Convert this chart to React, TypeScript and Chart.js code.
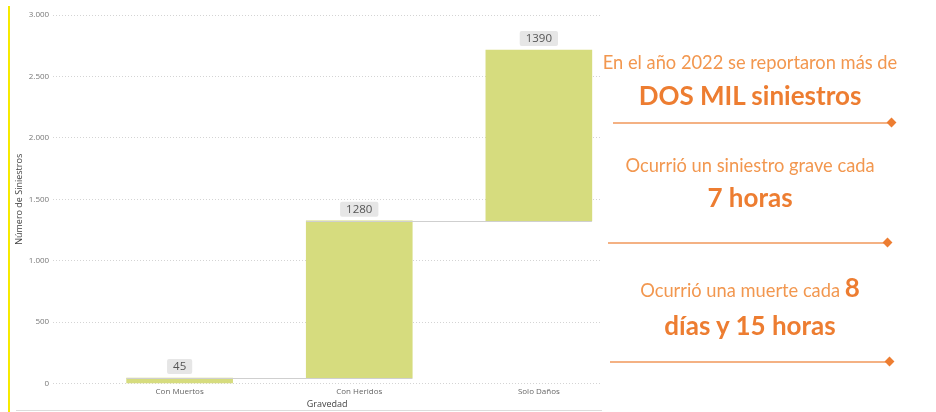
import React, { useEffect, useRef } from 'react';
import { Chart, registerables } from 'chart.js';
Chart.register(...registerables);

const categories = ['Con Muertos', 'Con Heridos', 'Solo Daños'];
const deltas = [45, 1280, 1390];
const yTicks = [0, 500, 1000, 1500, 2000, 2500, 3000];

const starts: number[] = [];
deltas.reduce((acc, d) => { starts.push(acc); return acc + d; }, 0);

const fmt = (v: number) => String(v).replace(/\B(?=(\d{3})+(?!\d))/g, '.');

const BAR = '#D6DC7E';
const ORANGE = '#ED7D31';
const ORANGE_L = '#F2974F';
const LINE_L = '#F4B183';

const connectorPlugin = {
  id: 'connectors',
  afterDatasetsDraw(chart: any) {
    const meta = chart.getDatasetMeta(0);
    const ctx = chart.ctx;
    ctx.save();
    ctx.strokeStyle = '#cfcfcf';
    ctx.lineWidth = 1;
    for (let i = 0; i < meta.data.length - 1; i++) {
      const a = meta.data[i].getProps(['x', 'y', 'width'], true);
      const b = meta.data[i + 1].getProps(['x', 'y', 'width'], true);
      const y = Math.round(a.y) + 0.5;
      ctx.beginPath();
      ctx.moveTo(a.x - a.width / 2, y);
      ctx.lineTo(b.x + b.width / 2, y);
      ctx.stroke();
    }
    ctx.restore();
  },
};

const labelPlugin = {
  id: 'boxLabels',
  afterDatasetsDraw(chart: any) {
    const meta = chart.getDatasetMeta(0);
    const ctx = chart.ctx;
    ctx.save();
    ctx.font = "11.5px 'Open Sans', sans-serif";
    ctx.textAlign = 'center';
    ctx.textBaseline = 'middle';
    meta.data.forEach((el: any, i: number) => {
      const p = el.getProps(['x', 'y'], true);
      const txt = String(deltas[i]);
      const w = ctx.measureText(txt).width + 12;
      const h = 15;
      const bottom = p.y - 4;
      ctx.fillStyle = '#e6e6e6';
      ctx.beginPath();
      (ctx as any).roundRect(p.x - w / 2, bottom - h, w, h, 2);
      ctx.fill();
      ctx.fillStyle = '#555';
      ctx.fillText(txt, p.x, bottom - h / 2 + 0.5);
    });
    ctx.restore();
  },
};

function ChartView() {
  const ref = useRef<HTMLCanvasElement | null>(null);
  useEffect(() => {
    if (!ref.current) return;
    const chart = new Chart(ref.current, {
      type: 'bar',
      data: {
        datasets: [{
          data: categories.map((c, i) => ({ x: i, y: [starts[i], starts[i] + deltas[i]] })) as any,
          backgroundColor: BAR,
          barThickness: 106,
        }],
      },
      options: {
        animation: false,
        responsive: false,
        layout: { padding: { left: 14, right: 19, top: 15, bottom: 2 } },
        plugins: { legend: { display: false }, tooltip: { enabled: false } },
        scales: {
          x: {
            type: 'linear',
            offset: false,
            min: -0.704,
            max: 2.346,
            grid: { display: false, drawTicks: false },
            border: { display: false },
            afterBuildTicks: (s: any) => { s.ticks = categories.map((_, i) => ({ value: i })); },
            ticks: {
              callback: (v: any) => categories[v] ?? '',
              font: { size: 8, family: "'Open Sans', sans-serif" },
              color: '#666',
              padding: 3,
              maxRotation: 0,
              autoSkip: false,
            },
            title: {
              display: true,
              text: 'Gravedad',
              font: { size: 9, family: "'Open Sans', sans-serif" },
              color: '#444',
              padding: { top: 0, bottom: 0 },
            },
          },
          y: {
            min: 0,
            max: 3000,
            grid: { color: '#d4d4d4', drawTicks: false },
            border: { display: false, dash: [1, 2] },
            afterBuildTicks: (s: any) => { s.ticks = yTicks.map(v => ({ value: v })); },
            ticks: {
              callback: (v: any) => fmt(v),
              font: { size: 8, family: "'Open Sans', sans-serif" },
              color: '#777',
              padding: 4,
            },
            title: {
              display: true,
              text: 'Número de Siniestros',
              font: { size: 9, family: "'Open Sans', sans-serif" },
              color: '#444',
              padding: { top: 0, bottom: 0 },
            },
          },
        },
      },
      plugins: [connectorPlugin, labelPlugin],
    });
    return () => chart.destroy();
  }, []);
  return <canvas ref={ref} width={620} height={412} style={{ position: 'absolute', left: 0, top: 0 }} />;
}

const textLine = (text: React.ReactNode, cy: number, size: number, bold: boolean, color: string, key: string) => (
  <div key={key} style={{
    position: 'absolute', left: 600, width: 300, top: cy - size / 2 - 2, height: size + 4,
    lineHeight: `${size + 4}px`, textAlign: 'center', fontSize: size, fontWeight: bold ? 700 : 400,
    color, fontFamily: "Lato, 'Open Sans', sans-serif", whiteSpace: 'nowrap',
  }}>{text}</div>
);

const divider = (y: number, x1: number, x2: number, key: string) => (
  <div key={key}>
    <div style={{ position: 'absolute', left: x1, top: y - 1, width: x2 - x1, height: 1.5, background: LINE_L }} />
    <div style={{ position: 'absolute', left: x2 - 3.5, top: y - 4, width: 7, height: 7, background: ORANGE, transform: 'rotate(45deg)' }} />
  </div>
);

export default function App() {
  return (
    <div style={{ position: 'relative', width: 936, height: 412, background: '#fff', overflow: 'hidden' }}>
      <style>{`body{margin:0}`}</style>
      <div style={{ position: 'absolute', left: 8, top: 6, width: 2, height: 406, background: '#F7EA00' }} />
      <ChartView />
      <div style={{ position: 'absolute', left: 16, top: 410, width: 586, height: 1, background: '#dcdcdc' }} />
      {textLine('En el año 2022 se reportaron más de', 62, 18.3, false, ORANGE_L, 't1')}
      {textLine('DOS MIL siniestros', 95, 26, true, ORANGE, 't2')}
      {divider(123, 613, 891, 'd1')}
      {textLine('Ocurrió un siniestro grave cada', 165, 18.3, false, ORANGE_L, 't3')}
      {textLine('7 horas', 197, 26, true, ORANGE, 't4')}
      {divider(243, 608, 887, 'd2')}
      {textLine(<span>Ocurrió una muerte cada <span style={{ fontSize: 26, fontWeight: 700, color: ORANGE, verticalAlign: 'baseline' }}>8</span></span>, 287, 18.3, false, ORANGE_L, 't5')}
      {textLine('días y 15 horas', 325, 26, true, ORANGE, 't6')}
      {divider(362, 610, 889, 'd3')}
    </div>
  );
}
